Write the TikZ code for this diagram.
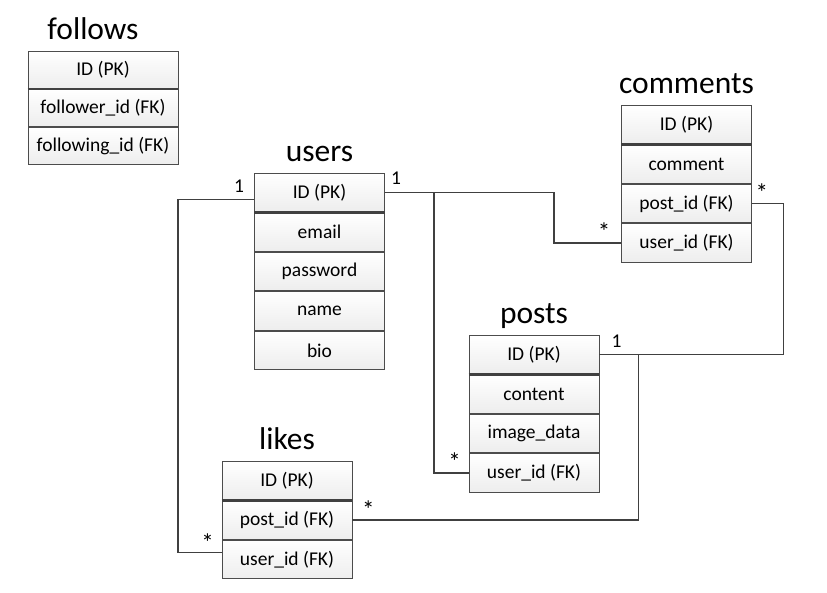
\documentclass[tikz,border=0pt]{standalone}
\usepackage{fontspec}
\setmainfont{Carlito}
\usetikzlibrary{positioning}

\newcommand{\cellfont}{\fontsize{19.5}{23}\selectfont}
\newcommand{\titlefont}{\fontsize{31.5}{36}\selectfont}

\tikzset{
  cell/.style={draw=black!70, line width=0.9pt, top color=white, bottom color=gray!14,
    minimum width=130pt, minimum height=38.5pt, inner sep=0pt, font=\cellfont},
  tabletitle/.style={font=\titlefont, inner sep=0pt, text depth=0pt},
  pkline/.style={black!75, line width=2.4pt},
  link/.style={black!75, line width=1.5pt},
  mult/.style={font=\cellfont, inner sep=0pt},
  many/.style={font=\fontsize{25}{28}\selectfont, inner sep=0pt}
}

\begin{document}
\begin{tikzpicture}[x=1pt,y=1pt]
            \useasboundingbox (0,0) rectangle (827,-592);

            % follows
            \node[cell, anchor=north, minimum width=150pt, minimum height=37pt] (follows-id) at (103,-51) {ID (PK)};
            \node[cell, below=0pt of follows-id, minimum width=150pt, minimum height=37pt] (follows-follower) {follower\_id (FK)};
            \node[cell, below=0pt of follows-follower, minimum width=150pt, minimum height=37pt] (follows-following) {following\_id (FK)};
            \node[tabletitle, above=11pt of follows-id, xshift=-10pt] (follows) {follows};

            % users
            \node[cell, anchor=north] (users-id) at (319.5,-173) {ID (PK)};
            \node[cell, below=0pt of users-id] (users-email) {email};
            \node[cell, below=0pt of users-email] (users-password) {password};
            \node[cell, below=0pt of users-password] (users-name) {name};
            \node[cell, below=0pt of users-name] (users-bio) {bio};
            \node[tabletitle, above=11pt of users-id] (users) {users};

            % comments
            \node[cell, anchor=north] (comments-id) at (686.5,-105) {ID (PK)};
            \node[cell, below=0pt of comments-id] (comments-comment) {comment};
            \node[cell, below=0pt of comments-comment] (comments-post) {post\_id (FK)};
            \node[cell, below=0pt of comments-post] (comments-user) {user\_id (FK)};
            \node[tabletitle, above=11pt of comments-id] (comments) {comments};

            % posts
            \node[cell, anchor=north] (posts-id) at (534,-335) {ID (PK)};
            \node[cell, below=0pt of posts-id] (posts-content) {content};
            \node[cell, below=0pt of posts-content] (posts-image) {image\_data};
            \node[cell, below=0pt of posts-image] (posts-user) {user\_id (FK)};
            \node[tabletitle, above=11pt of posts-id] (posts) {posts};

            % likes
            \node[cell, anchor=north] (likes-id) at (287,-461) {ID (PK)};
            \node[cell, below=0pt of likes-id] (likes-post) {post\_id (FK)};
            \node[cell, below=0pt of likes-post] (likes-user) {user\_id (FK)};
            \node[tabletitle, above=11pt of likes-id] (likes) {likes};

            % PK separators
            \foreach \t in {follows,users,comments,posts,likes}
                \draw[pkline] (\t-id.south west) -- (\t-id.south east);

            % relations
            \draw[link] ([yshift=-7pt]users-id.west) -- ++(-76,0) |- ([yshift=7pt]likes-user.west);
            \draw[link] (users-id.east) -- ++(169,0) |- (comments-user.west);
            \draw[link] ([xshift=49pt]users-id.east) |- (posts-user.west);
            \draw[link] (posts-id.east) -- ++(184,0) |- (comments-post.east);
            \draw[link] ([xshift=39pt]posts-id.east) |- (likes-post.east);

            \node[mult] at ([shift={(-15,6)}]users-id.west) {1};
            \node[mult] at ([shift={(11,14)}]users-id.east) {1};
            \node[mult] at ([shift={(17,13)}]posts-id.east) {1};
            \node[many] at ([shift={(-17,11)}]comments-user.west) {*};
            \node[many] at ([shift={(-14,11)}]posts-user.west) {*};
            \node[many] at ([shift={(-14,17)}]likes-user.west) {*};
            \node[many] at ([shift={(10,11)}]comments-post.east) {*};
            \node[many] at ([shift={(16,10)}]likes-post.east) {*};
        \end{tikzpicture}
\end{document}
